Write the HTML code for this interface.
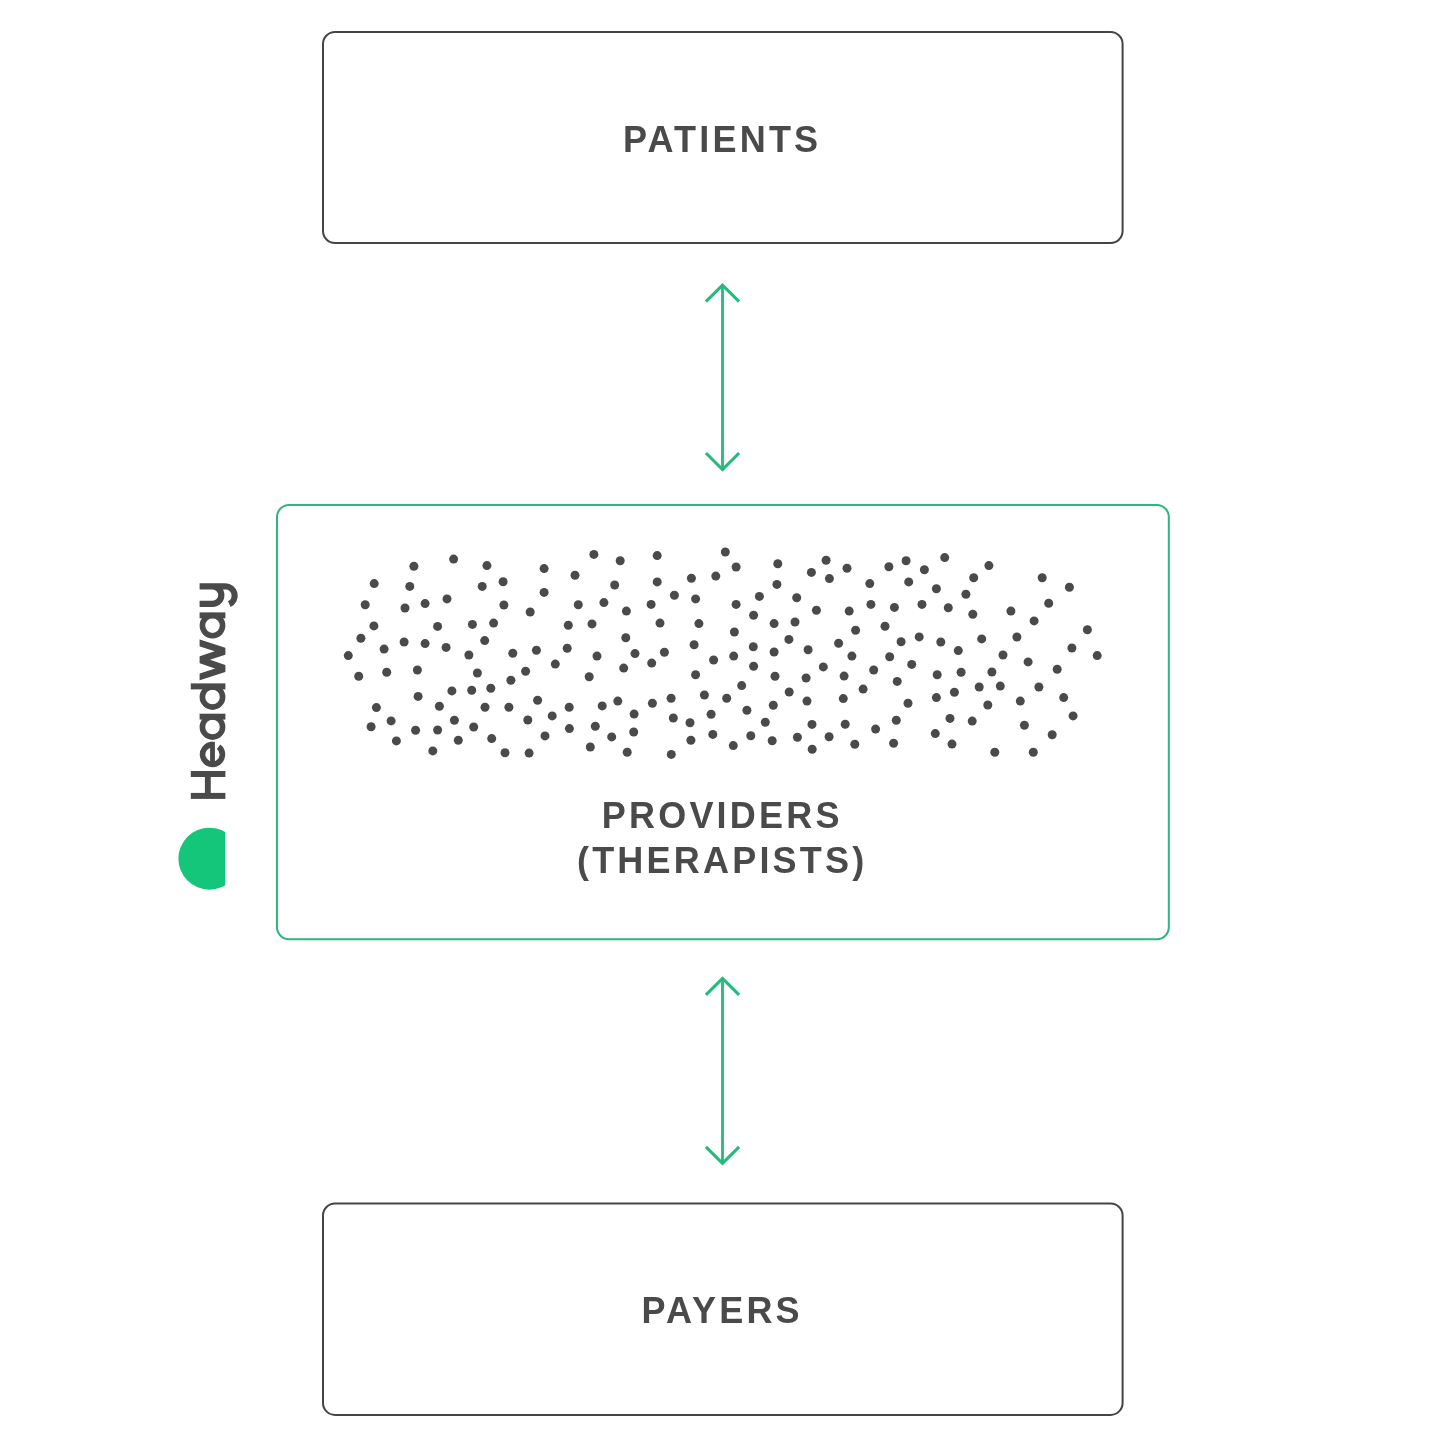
<!DOCTYPE html>
<html><head><meta charset="utf-8">
<style>
html,body{margin:0;padding:0;background:#fff;}
body{width:1440px;height:1441px;overflow:hidden;position:relative;}
svg{position:absolute;left:0;top:0;will-change:transform;}
.t{font-family:"Liberation Sans",sans-serif;font-weight:bold;fill:#4a4a4a;font-size:36px;letter-spacing:3.2px;}
</style></head><body>
<svg width="1440" height="1441" viewBox="0 0 1440 1441">
<rect x="323" y="32" width="799.6" height="211" rx="12" ry="12" fill="none" stroke="#444444" stroke-width="2"/>
<rect x="323" y="1203.5" width="799.6" height="211.4" rx="12" ry="12" fill="none" stroke="#444444" stroke-width="2"/>
<rect x="277" y="505" width="891.8" height="434.2" rx="12" ry="12" fill="none" stroke="#2ab67c" stroke-width="2"/>
<path d="M722.5 286.2 V468.5" fill="none" stroke="#24bb7c" stroke-width="2.8"/><path d="M705.9 301.7 L722.5 285.2 L739.1 301.7 M705.9 453.0 L722.5 469.5 L739.1 453.0" fill="none" stroke="#24bb7c" stroke-width="3.1" stroke-linejoin="miter"/>
<path d="M722.5 979.4 V1162.3" fill="none" stroke="#24bb7c" stroke-width="2.8"/><path d="M705.9 994.9 L722.5 978.4 L739.1 994.9 M705.9 1146.8 L722.5 1163.3 L739.1 1146.8" fill="none" stroke="#24bb7c" stroke-width="3.1" stroke-linejoin="miter"/>
<g fill="#4a4a4a"><circle cx="453.6" cy="559.1" r="4.5"/><circle cx="413.9" cy="566.3" r="4.5"/><circle cx="486.9" cy="565.6" r="4.5"/><circle cx="374.2" cy="583.6" r="4.5"/><circle cx="409.8" cy="586.4" r="4.5"/><circle cx="482.2" cy="586.4" r="4.5"/><circle cx="447.0" cy="598.9" r="4.5"/><circle cx="365.2" cy="604.8" r="4.5"/><circle cx="405.0" cy="608.0" r="4.5"/><circle cx="425.1" cy="603.6" r="4.5"/><circle cx="373.9" cy="625.9" r="4.5"/><circle cx="437.6" cy="626.4" r="4.5"/><circle cx="472.4" cy="624.4" r="4.5"/><circle cx="493.6" cy="623.1" r="4.5"/><circle cx="360.9" cy="638.3" r="4.5"/><circle cx="384.1" cy="649.1" r="4.5"/><circle cx="404.1" cy="642.0" r="4.5"/><circle cx="425.1" cy="643.6" r="4.5"/><circle cx="446.1" cy="647.4" r="4.5"/><circle cx="484.7" cy="640.6" r="4.5"/><circle cx="348.3" cy="655.6" r="4.5"/><circle cx="468.9" cy="655.0" r="4.5"/><circle cx="593.9" cy="554.4" r="4.5"/><circle cx="620.2" cy="560.8" r="4.5"/><circle cx="544.1" cy="568.6" r="4.5"/><circle cx="575.0" cy="575.3" r="4.5"/><circle cx="503.1" cy="581.7" r="4.5"/><circle cx="614.7" cy="585.0" r="4.5"/><circle cx="544.1" cy="592.4" r="4.5"/><circle cx="503.9" cy="605.0" r="4.5"/><circle cx="530.2" cy="612.0" r="4.5"/><circle cx="578.3" cy="604.8" r="4.5"/><circle cx="603.9" cy="602.6" r="4.5"/><circle cx="626.4" cy="611.1" r="4.5"/><circle cx="568.3" cy="625.3" r="4.5"/><circle cx="592.0" cy="623.9" r="4.5"/><circle cx="625.8" cy="637.8" r="4.5"/><circle cx="512.8" cy="653.3" r="4.5"/><circle cx="536.4" cy="650.3" r="4.5"/><circle cx="567.2" cy="648.3" r="4.5"/><circle cx="597.0" cy="656.1" r="4.5"/><circle cx="635.0" cy="653.6" r="4.5"/><circle cx="657.2" cy="555.6" r="4.5"/><circle cx="725.3" cy="552.0" r="4.5"/><circle cx="736.1" cy="567.0" r="4.5"/><circle cx="777.8" cy="563.7" r="4.5"/><circle cx="657.2" cy="581.9" r="4.5"/><circle cx="691.4" cy="578.3" r="4.5"/><circle cx="715.8" cy="576.1" r="4.5"/><circle cx="776.9" cy="584.4" r="4.5"/><circle cx="674.4" cy="595.2" r="4.5"/><circle cx="695.6" cy="598.9" r="4.5"/><circle cx="651.1" cy="604.4" r="4.5"/><circle cx="736.1" cy="604.4" r="4.5"/><circle cx="759.4" cy="596.4" r="4.5"/><circle cx="796.7" cy="597.8" r="4.5"/><circle cx="753.6" cy="615.3" r="4.5"/><circle cx="660.0" cy="623.1" r="4.5"/><circle cx="698.9" cy="623.6" r="4.5"/><circle cx="774.1" cy="623.6" r="4.5"/><circle cx="795.0" cy="622.0" r="4.5"/><circle cx="734.4" cy="632.0" r="4.5"/><circle cx="788.9" cy="639.4" r="4.5"/><circle cx="694.1" cy="644.8" r="4.5"/><circle cx="664.4" cy="652.2" r="4.5"/><circle cx="753.3" cy="646.7" r="4.5"/><circle cx="774.1" cy="652.0" r="4.5"/><circle cx="733.7" cy="656.1" r="4.5"/><circle cx="826.1" cy="560.2" r="4.5"/><circle cx="811.4" cy="572.4" r="4.5"/><circle cx="829.4" cy="578.6" r="4.5"/><circle cx="847.0" cy="568.3" r="4.5"/><circle cx="888.9" cy="566.7" r="4.5"/><circle cx="906.1" cy="560.8" r="4.5"/><circle cx="924.4" cy="569.8" r="4.5"/><circle cx="944.7" cy="557.6" r="4.5"/><circle cx="869.8" cy="583.6" r="4.5"/><circle cx="908.7" cy="581.9" r="4.5"/><circle cx="936.4" cy="588.7" r="4.5"/><circle cx="816.4" cy="610.2" r="4.5"/><circle cx="849.2" cy="611.1" r="4.5"/><circle cx="870.9" cy="604.4" r="4.5"/><circle cx="894.4" cy="607.4" r="4.5"/><circle cx="922.0" cy="604.4" r="4.5"/><circle cx="855.6" cy="630.2" r="4.5"/><circle cx="885.0" cy="626.3" r="4.5"/><circle cx="808.1" cy="649.7" r="4.5"/><circle cx="838.6" cy="643.3" r="4.5"/><circle cx="901.1" cy="641.7" r="4.5"/><circle cx="919.2" cy="636.9" r="4.5"/><circle cx="940.8" cy="642.0" r="4.5"/><circle cx="851.9" cy="656.1" r="4.5"/><circle cx="889.7" cy="656.7" r="4.5"/><circle cx="988.9" cy="565.6" r="4.5"/><circle cx="973.7" cy="577.8" r="4.5"/><circle cx="1042.2" cy="577.8" r="4.5"/><circle cx="1069.4" cy="587.2" r="4.5"/><circle cx="965.9" cy="594.2" r="4.5"/><circle cx="948.3" cy="607.8" r="4.5"/><circle cx="972.8" cy="614.2" r="4.5"/><circle cx="1010.9" cy="611.1" r="4.5"/><circle cx="1048.7" cy="603.3" r="4.5"/><circle cx="1034.1" cy="620.9" r="4.5"/><circle cx="1087.4" cy="629.7" r="4.5"/><circle cx="981.7" cy="638.9" r="4.5"/><circle cx="1016.9" cy="637.0" r="4.5"/><circle cx="958.3" cy="650.6" r="4.5"/><circle cx="1071.9" cy="648.0" r="4.5"/><circle cx="1003.0" cy="655.0" r="4.5"/><circle cx="1097.2" cy="655.6" r="4.5"/><circle cx="358.7" cy="676.3" r="4.5"/><circle cx="386.7" cy="672.2" r="4.5"/><circle cx="417.4" cy="670.0" r="4.5"/><circle cx="477.4" cy="673.0" r="4.5"/><circle cx="451.9" cy="690.9" r="4.5"/><circle cx="471.7" cy="690.2" r="4.5"/><circle cx="490.8" cy="688.3" r="4.5"/><circle cx="418.1" cy="696.4" r="4.5"/><circle cx="376.4" cy="707.6" r="4.5"/><circle cx="439.4" cy="706.3" r="4.5"/><circle cx="485.0" cy="707.2" r="4.5"/><circle cx="391.1" cy="720.9" r="4.5"/><circle cx="454.4" cy="720.3" r="4.5"/><circle cx="371.1" cy="726.7" r="4.5"/><circle cx="415.6" cy="730.2" r="4.5"/><circle cx="437.6" cy="730.0" r="4.5"/><circle cx="473.7" cy="727.0" r="4.5"/><circle cx="396.4" cy="740.9" r="4.5"/><circle cx="458.3" cy="740.3" r="4.5"/><circle cx="491.7" cy="738.6" r="4.5"/><circle cx="432.8" cy="750.9" r="4.5"/><circle cx="555.3" cy="664.1" r="4.5"/><circle cx="525.6" cy="671.3" r="4.5"/><circle cx="623.7" cy="668.1" r="4.5"/><circle cx="510.9" cy="680.3" r="4.5"/><circle cx="589.2" cy="676.7" r="4.5"/><circle cx="537.6" cy="700.3" r="4.5"/><circle cx="508.9" cy="707.2" r="4.5"/><circle cx="569.2" cy="707.2" r="4.5"/><circle cx="602.2" cy="705.9" r="4.5"/><circle cx="617.8" cy="701.1" r="4.5"/><circle cx="634.1" cy="714.1" r="4.5"/><circle cx="527.8" cy="720.0" r="4.5"/><circle cx="552.2" cy="715.9" r="4.5"/><circle cx="595.3" cy="726.3" r="4.5"/><circle cx="569.4" cy="728.6" r="4.5"/><circle cx="633.7" cy="732.0" r="4.5"/><circle cx="611.7" cy="736.9" r="4.5"/><circle cx="545.0" cy="735.9" r="4.5"/><circle cx="590.3" cy="747.0" r="4.5"/><circle cx="505.0" cy="752.8" r="4.5"/><circle cx="529.1" cy="753.1" r="4.5"/><circle cx="627.2" cy="752.2" r="4.5"/><circle cx="651.7" cy="663.1" r="4.5"/><circle cx="713.6" cy="660.0" r="4.5"/><circle cx="695.6" cy="674.7" r="4.5"/><circle cx="753.6" cy="666.3" r="4.5"/><circle cx="775.0" cy="676.3" r="4.5"/><circle cx="741.7" cy="685.6" r="4.5"/><circle cx="789.2" cy="692.0" r="4.5"/><circle cx="652.4" cy="703.3" r="4.5"/><circle cx="671.1" cy="698.3" r="4.5"/><circle cx="704.4" cy="695.0" r="4.5"/><circle cx="726.7" cy="698.3" r="4.5"/><circle cx="773.3" cy="705.2" r="4.5"/><circle cx="746.9" cy="710.2" r="4.5"/><circle cx="673.3" cy="718.0" r="4.5"/><circle cx="690.0" cy="722.8" r="4.5"/><circle cx="711.1" cy="714.2" r="4.5"/><circle cx="765.3" cy="722.2" r="4.5"/><circle cx="712.8" cy="734.4" r="4.5"/><circle cx="690.9" cy="740.2" r="4.5"/><circle cx="750.8" cy="735.8" r="4.5"/><circle cx="772.2" cy="740.8" r="4.5"/><circle cx="733.3" cy="745.6" r="4.5"/><circle cx="671.3" cy="754.4" r="4.5"/><circle cx="911.7" cy="664.4" r="4.5"/><circle cx="823.3" cy="666.9" r="4.5"/><circle cx="873.7" cy="670.0" r="4.5"/><circle cx="937.2" cy="674.7" r="4.5"/><circle cx="806.1" cy="678.0" r="4.5"/><circle cx="844.1" cy="676.1" r="4.5"/><circle cx="897.2" cy="681.4" r="4.5"/><circle cx="863.1" cy="689.1" r="4.5"/><circle cx="807.0" cy="701.1" r="4.5"/><circle cx="843.3" cy="698.6" r="4.5"/><circle cx="908.0" cy="703.3" r="4.5"/><circle cx="936.4" cy="697.6" r="4.5"/><circle cx="812.0" cy="724.4" r="4.5"/><circle cx="845.2" cy="724.2" r="4.5"/><circle cx="896.3" cy="720.2" r="4.5"/><circle cx="875.6" cy="729.1" r="4.5"/><circle cx="797.4" cy="737.2" r="4.5"/><circle cx="829.1" cy="736.7" r="4.5"/><circle cx="935.3" cy="733.6" r="4.5"/><circle cx="854.8" cy="744.2" r="4.5"/><circle cx="893.6" cy="743.3" r="4.5"/><circle cx="812.2" cy="749.2" r="4.5"/><circle cx="1028.1" cy="661.9" r="4.5"/><circle cx="961.1" cy="672.2" r="4.5"/><circle cx="991.9" cy="672.0" r="4.5"/><circle cx="1057.2" cy="669.2" r="4.5"/><circle cx="979.2" cy="687.0" r="4.5"/><circle cx="1000.3" cy="686.1" r="4.5"/><circle cx="1038.9" cy="687.0" r="4.5"/><circle cx="954.4" cy="692.2" r="4.5"/><circle cx="1020.3" cy="701.1" r="4.5"/><circle cx="1063.7" cy="697.6" r="4.5"/><circle cx="987.8" cy="705.0" r="4.5"/><circle cx="1073.1" cy="715.9" r="4.5"/><circle cx="950.0" cy="718.4" r="4.5"/><circle cx="972.2" cy="721.1" r="4.5"/><circle cx="1024.4" cy="725.3" r="4.5"/><circle cx="1052.2" cy="734.8" r="4.5"/><circle cx="952.0" cy="744.1" r="4.5"/><circle cx="994.8" cy="752.2" r="4.5"/><circle cx="1033.3" cy="752.2" r="4.5"/></g>
<text class="t" x="722.2" y="151.7" text-anchor="middle">PATIENTS</text>
<text class="t" x="722.2" y="827.8" text-anchor="middle">PROVIDERS</text>
<text class="t" x="722.2" y="873.3" text-anchor="middle">(THERAPISTS)</text>
<text class="t" x="722.2" y="1323.3" text-anchor="middle">PAYERS</text>

<g transform="translate(225.4 799.2) rotate(-90)">
  <g fill="#4a4a4a">
    <rect x="0.3" y="-34.6" width="6" height="34.6"/>
    <rect x="22.2" y="-34.6" width="6" height="34.6"/>
    <rect x="6" y="-20.5" width="16.5" height="5.85"/>
    <rect x="79.6" y="-25.8" width="5.9" height="25.8"/>
    <rect x="109.8" y="-34.6" width="6" height="34.6"/>
    <rect x="180.9" y="-25.8" width="5.9" height="25.8"/>
  </g>
  <path d="M54.6 -12.9 A9.9 9.9 0 1 0 52.50 -6.80" fill="none" stroke="#4a4a4a" stroke-width="5.6"/><rect x="34.800000000000004" y="-15.3" width="22.6" height="4.8" fill="#4a4a4a"/>
  <circle cx="72.2" cy="-12.9" r="10.1" fill="none" stroke="#4a4a4a" stroke-width="5.6"/>
  <circle cx="102.2" cy="-12.9" r="10.1" fill="none" stroke="#4a4a4a" stroke-width="5.6"/>
  <circle cx="173.6" cy="-12.9" r="10.1" fill="none" stroke="#4a4a4a" stroke-width="5.6"/>
  <clipPath id="wclip"><rect x="110" y="-25.8" width="60" height="25.8"/></clipPath>
  <path clip-path="url(#wclip)" d="M119.5 -34.5 L130.6 0 L139.5 -25.8 L148 0 L159.0 -34.5" fill="none" stroke="#4a4a4a" stroke-width="6.6" stroke-linejoin="miter" stroke-miterlimit="10"/>
  <path d="M195.35 -25.8 V-12.8 A8.7 8.7 0 0 0 212.75 -12.8 M212.75 -25.8 V0 A9.25 9.25 0 0 1 195.1 3.9" fill="none" stroke="#4a4a4a" stroke-width="6.2"/>
</g>
<clipPath id="gclip"><rect x="170" y="820" width="55.2" height="80"/></clipPath>
<circle clip-path="url(#gclip)" cx="209.4" cy="858.7" r="31" fill="#14c67a"/>

</svg>
</body></html>
